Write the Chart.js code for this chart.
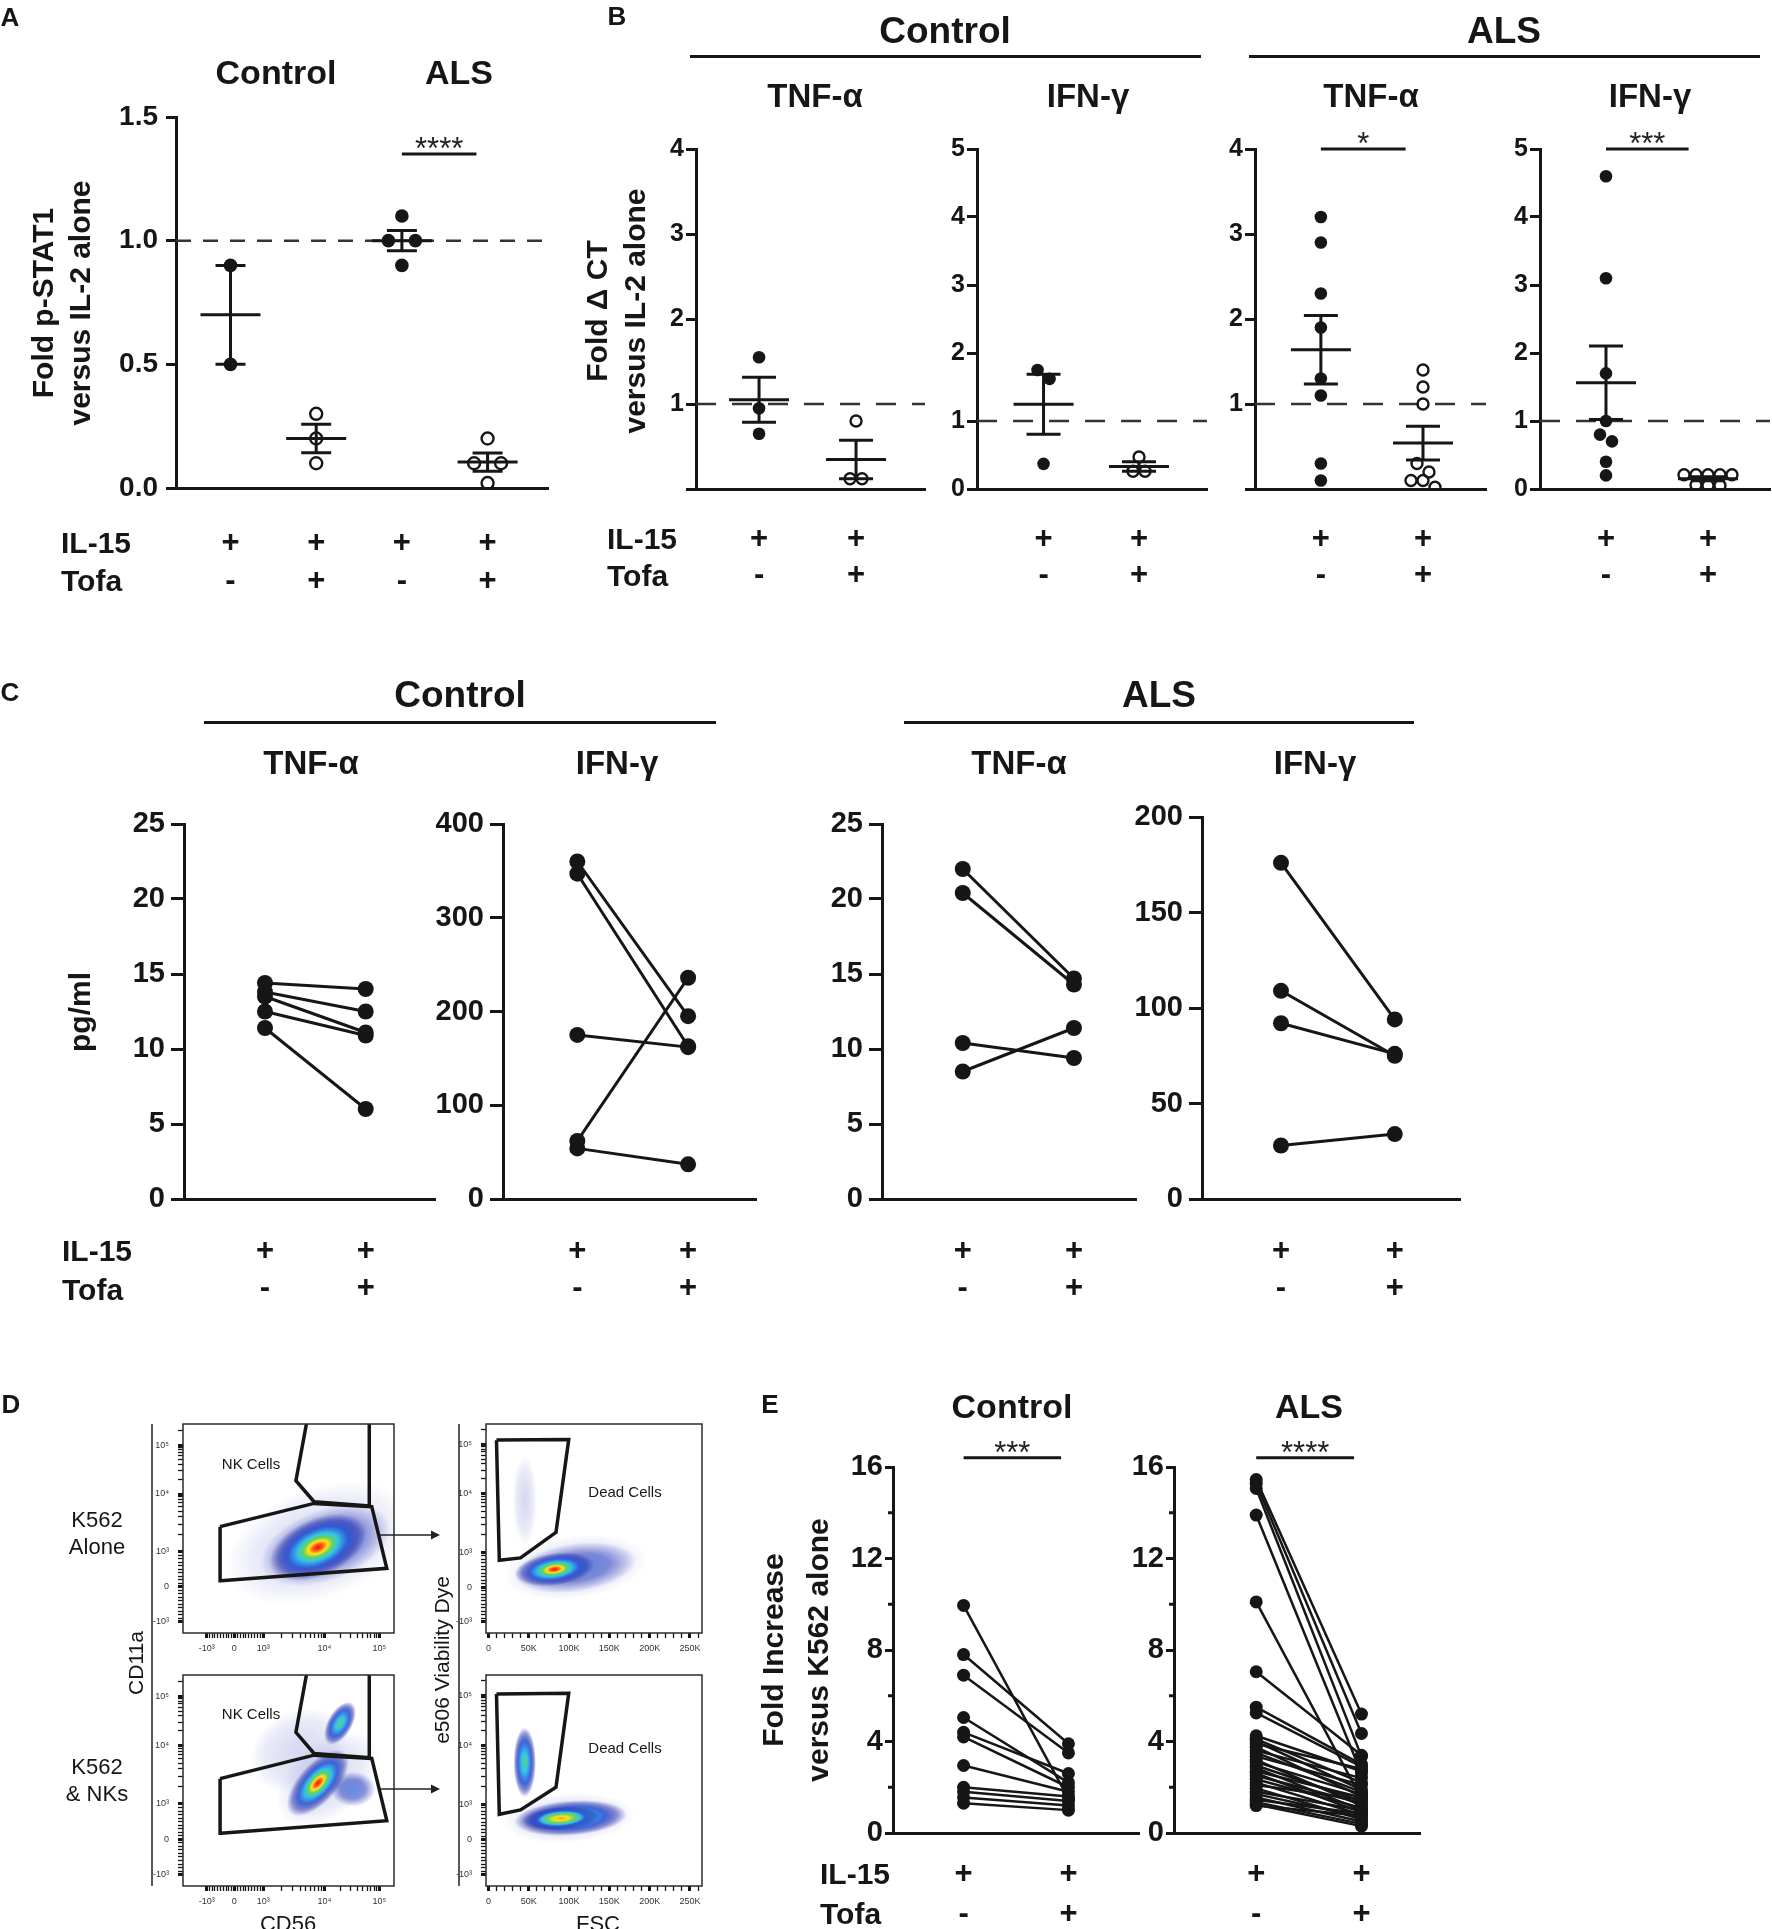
<!DOCTYPE html>
<html>
<head>
<meta charset="utf-8">
<title>NK cell IL-15 / tofacitinib figure</title>
<script src="https://cdn.jsdelivr.net/npm/chart.js@4.4.1/dist/chart.umd.min.js"></script>
<style>
  html, body { margin: 0; padding: 0; background: #fff; }
  #fig { position: relative; width: 1772px; height: 1929px; overflow: hidden; background: #fff;
         font-family: 'Liberation Sans', Arial, Helvetica, sans-serif; color: #161616; }
  #fig canvas { position: absolute; }
  .c { position: absolute; z-index: 2; transform: translate(-50%, -50%); white-space: nowrap; font-weight: bold; line-height: 1; text-align: center; }
  .l { position: absolute; z-index: 2; transform: translate(0, -50%); white-space: nowrap; font-weight: bold; line-height: 1; }
  .v { position: absolute; z-index: 2; transform: translate(-50%, -50%) rotate(-90deg); white-space: nowrap; font-weight: bold; text-align: center; }
  .n { font-weight: normal; }
  .rule { position: absolute; height: 3px; background: #161616; }
</style>
</head>
<body>
<div id="fig">
  <!-- panel letters -->
  <div class="c" style="left:10px;top:17px;font-size:26px">A</div>
  <div class="c" style="left:617px;top:16px;font-size:26px">B</div>
  <div class="c" style="left:10px;top:692px;font-size:26px">C</div>
  <div class="c" style="left:11px;top:1404px;font-size:26px">D</div>
  <div class="c" style="left:770px;top:1404px;font-size:26px">E</div>

  <!-- A -->
  <div class="c" style="left:276px;top:72px;font-size:34px">Control</div>
  <div class="c" style="left:459px;top:72px;font-size:34px">ALS</div>
  <div class="v" style="left:61px;top:303px;font-size:30px;line-height:37px">Fold p-STAT1<br>versus IL-2 alone</div>
  <div class="l" style="left:61px;top:543px;font-size:30px">IL-15</div>
  <div class="l" style="left:61px;top:581px;font-size:30px">Tofa</div>

  <!-- B -->
  <div class="c" style="left:945px;top:30px;font-size:37px">Control</div>
  <div class="rule" style="left:690px;top:55px;width:511px"></div>
  <div class="c" style="left:1504px;top:30px;font-size:37px">ALS</div>
  <div class="rule" style="left:1249px;top:55px;width:511px"></div>
  <div class="c" style="left:815px;top:95px;font-size:33px">TNF-α</div>
  <div class="c" style="left:1088px;top:95px;font-size:33px">IFN-γ</div>
  <div class="c" style="left:1371px;top:95px;font-size:33px">TNF-α</div>
  <div class="c" style="left:1650px;top:95px;font-size:33px">IFN-γ</div>
  <div class="v" style="left:616px;top:311px;font-size:30px;line-height:38px">Fold Δ CT<br>versus IL-2 alone</div>
  <div class="l" style="left:607px;top:539px;font-size:30px">IL-15</div>
  <div class="l" style="left:607px;top:576px;font-size:30px">Tofa</div>

  <!-- C -->
  <div class="c" style="left:460px;top:694px;font-size:37px">Control</div>
  <div class="rule" style="left:204px;top:721px;width:512px"></div>
  <div class="c" style="left:1159px;top:694px;font-size:37px">ALS</div>
  <div class="rule" style="left:904px;top:721px;width:510px"></div>
  <div class="c" style="left:311px;top:762px;font-size:33px">TNF-α</div>
  <div class="c" style="left:617px;top:762px;font-size:33px">IFN-γ</div>
  <div class="c" style="left:1019px;top:762px;font-size:33px">TNF-α</div>
  <div class="c" style="left:1315px;top:762px;font-size:33px">IFN-γ</div>
  <div class="v" style="left:80px;top:1012px;font-size:30px;line-height:1">pg/ml</div>
  <div class="l" style="left:62px;top:1251px;font-size:30px">IL-15</div>
  <div class="l" style="left:62px;top:1290px;font-size:30px">Tofa</div>

  <!-- D -->
  <div class="c n" style="left:97px;top:1533px;font-size:22px;line-height:27px">K562<br>Alone</div>
  <div class="c n" style="left:97px;top:1780px;font-size:22px;line-height:27px">K562<br>&amp; NKs</div>
  <div class="v n" style="left:135px;top:1663px;font-size:21px;line-height:1">CD11a</div>
  <div class="v n" style="left:441px;top:1660px;font-size:21px;line-height:1">e506 Viability Dye</div>
  <div class="c n" style="left:288px;top:1924px;font-size:22px">CD56</div>
  <div class="c n" style="left:598px;top:1924px;font-size:22px">FSC</div>
  <div class="c n" style="left:251px;top:1463px;font-size:15px">NK Cells</div>
  <div class="c n" style="left:251px;top:1713px;font-size:15px">NK Cells</div>
  <div class="c n" style="left:625px;top:1491px;font-size:15px">Dead Cells</div>
  <div class="c n" style="left:625px;top:1747px;font-size:15px">Dead Cells</div>
  <svg style="position:absolute;left:0;top:0;z-index:1" width="1772" height="1929">
    <g stroke="#222" stroke-width="1.5">
      <line x1="152" y1="1424" x2="152" y2="1886"/>
      <line x1="459" y1="1424" x2="459" y2="1886"/>
      <line x1="380" y1="1535" x2="432" y2="1535"/>
      <line x1="380" y1="1789" x2="432" y2="1789"/>
    </g>
    <g fill="#222">
      <polygon points="431,1530.5 440,1535 431,1539.5"/>
      <polygon points="431,1784.5 440,1789 431,1793.5"/>
    </g>
  </svg>

  <!-- E -->
  <div class="c" style="left:1012px;top:1406px;font-size:34px">Control</div>
  <div class="c" style="left:1309px;top:1406px;font-size:34px">ALS</div>
  <div class="v" style="left:795px;top:1650px;font-size:30px;line-height:45px">Fold Increase<br>versus K562 alone</div>
  <div class="l" style="left:820px;top:1874px;font-size:30px">IL-15</div>
  <div class="l" style="left:820px;top:1914px;font-size:30px">Tofa</div>
</div>

<script>
const INK = '#161616';
const FONT = "'Liberation Sans', Arial, Helvetica, sans-serif";
Chart.defaults.font.family = FONT;
Chart.defaults.color = INK;

// ---- A: fold p-STAT1 versus IL-2 alone ----
const aIL15 = ['+', '+', '+', '+'];
const aTofa = ['-', '+', '-', '+'];
const aCtrlIL15 = [0.9, 0.5];
const aCtrlTofa = [0.3, 0.2, 0.1];
const aAlsIL15 = [1.1, 1.0, 1.0, 0.9];
const aAlsTofa = [0.2, 0.1, 0.1, 0.02];
const aTicks = [0, 0.5, 1.0, 1.5];

// ---- B: fold delta CT versus IL-2 alone ----
const bIL15 = ['+', '+'];
const bTofa = ['-', '+'];
const bTnfCtrlIL15 = [1.55, 0.95, 0.65];
const bTnfCtrlTofa = [0.8, 0.12, 0.12];
const bIfnCtrlIL15 = [1.75, 1.62, 0.37];
const bIfnCtrlTofa = [0.47, 0.26, 0.26];
const bTnfAlsIL15 = [3.2, 2.9, 2.3, 1.9, 1.3, 1.1, 0.3, 0.1];
const bTnfAlsTofa = [1.4, 1.2, 1.0, 0.3, 0.2, 0.1, 0.1, 0.02];
const bIfnAlsIL15 = [4.6, 3.1, 1.7, 1.0, 0.8, 0.7, 0.4, 0.2];
const bIfnAlsTofa = [0.21, 0.21, 0.21, 0.21, 0.21, 0.06, 0.05, 0.05];
const bTnfTicks = [0, 1, 2, 3, 4];
const bIfnTicks = [0, 1, 2, 3, 4, 5];

// ---- C: secreted cytokine, pg/ml (pairs: IL-15 alone -> IL-15 + Tofa) ----
const cTnfCtrlIL15 = [14.4, 13.8, 13.5, 12.5, 11.4];
const cTnfCtrlTofa = [14.0, 12.5, 11.1, 10.9, 6.0];
const cIfnCtrlIL15 = [360, 347, 175, 62, 54];
const cIfnCtrlTofa = [195, 163, 162, 236, 37];
const cTnfAlsIL15 = [22.0, 20.4, 10.4, 8.5];
const cTnfAlsTofa = [14.7, 14.3, 9.4, 11.4];
const cIfnAlsIL15 = [176, 109, 92, 28];
const cIfnAlsTofa = [94, 75, 76, 34];
const cTnfTicks = [0, 5, 10, 15, 20, 25];
const cIfnCtrlTicks = [0, 100, 200, 300, 400];
const cIfnAlsTicks = [0, 50, 100, 150, 200];

// ---- E: fold increase in K562 killing versus K562 alone ----
const eCtrlIL15 = [9.95, 7.8, 6.9, 5.05, 4.4, 4.2, 2.95, 2.0, 1.8, 1.55, 1.3];
const eCtrlTofa = [1.5, 3.9, 3.5, 2.2, 2.6, 2.0, 1.8, 1.6, 1.4, 1.2, 1.0];
const eAlsIL15 = [15.45, 15.28, 15.06, 13.9, 10.1, 7.05, 5.5, 5.25, 4.25, 4.1, 4.0, 3.9, 3.75, 3.6, 3.5, 3.35, 3.2,
                  3.1, 2.95, 2.85, 2.7, 2.6, 2.5, 2.35, 2.2, 2.1, 1.95, 1.8, 1.7, 1.55, 1.45, 1.35, 1.25, 1.2];
const eAlsTofa = [5.2, 4.35, 3.35, 2.6, 1.5, 3.4, 3.0, 2.9, 2.7, 2.2, 1.9, 2.8, 1.6, 2.4, 1.8, 2.1, 1.2,
                  1.7, 1.4, 1.0, 1.55, 0.9, 1.3, 1.1, 0.8, 1.45, 0.6, 1.0, 0.7, 0.5, 0.85, 0.4, 0.3, 0.75];
const eTicks = [0, 4, 8, 12, 16];
const eMinor = [2, 6, 10, 14];

// ---- D: flow plots. Log axes in channel units (0-1024), FSC in raw units ----
const decadeLabels = ['-10³', '0', '10³', '10⁴', '10⁵'];
const cd56Channels = [115, 249, 390, 686, 953];
const cd11aChannels = [55, 227, 398, 681, 921];
const e506Channels = [55, 225, 396, 682, 925];
const fscTicks = [0, 50000, 100000, 150000, 200000, 250000];
const fscLabels = ['0', '50K', '100K', '150K', '200K', '250K'];
const nkGate = [[600, 1030], [548, 746], [636, 643], [907, 622], [904, 1030]];
const k562Gate = [[180, 521], [636, 635], [916, 619], [989, 317], [184, 256], [180, 521]];
const deadGateAlone = [[10000, 945], [99600, 948], [83800, 493], [39800, 368], [13500, 356], [10000, 945]];
const deadGateMix = [[10000, 932], [99600, 935], [83800, 479], [39800, 369], [13500, 348], [10000, 932]];
// density clouds: centre, radii (axis units), tilt in degrees, heat 0 (sparse), 1 (blue/green) .. 3 (red core)
const cloudsAlone = [
  { x: 660, y: 440, rx: 470, ry: 270, rot: 20, heat: 0 },
  { x: 690, y: 430, rx: 330, ry: 175, rot: 20, heat: 0.5 },
  { x: 655, y: 420, rx: 250, ry: 140, rot: 24, heat: 3 }
];
const cloudsMix = [
  { x: 560, y: 660, rx: 250, ry: 190, rot: 30, heat: 0 },
  { x: 700, y: 520, rx: 290, ry: 180, rot: 40, heat: 0 },
  { x: 825, y: 470, rx: 110, ry: 85, rot: 0, heat: 0.5 },
  { x: 762, y: 790, rx: 115, ry: 60, rot: 60, heat: 1 },
  { x: 655, y: 500, rx: 200, ry: 95, rot: 48, heat: 3 }
];
const cloudsDeadAlone = [
  { x: 45000, y: 650, rx: 15000, ry: 220, rot: 0, heat: 0 },
  { x: 108000, y: 322, rx: 90000, ry: 155, rot: 8, heat: 0 },
  { x: 108000, y: 320, rx: 76000, ry: 118, rot: 8, heat: 0.5 },
  { x: 82000, y: 312, rx: 50000, ry: 80, rot: 8, heat: 3 }
];
const cloudsDeadMix = [
  { x: 45000, y: 600, rx: 14000, ry: 170, rot: 0, heat: 1 },
  { x: 100000, y: 330, rx: 82000, ry: 120, rot: 4, heat: 0 },
  { x: 102000, y: 330, rx: 70000, ry: 85, rot: 4, heat: 1 },
  { x: 90000, y: 328, rx: 48000, ry: 58, rot: 4, heat: 2 }
];

const fig = document.getElementById('fig');

function makeCanvas(area, m) {
  const a = area.map(Math.round);
  const c = document.createElement('canvas');
  const w = a[2] - a[0] + m.l + m.r, h = a[3] - a[1] + m.t + m.b;
  c.width = w; c.height = h;
  c.style.left = (a[0] - m.l) + 'px';
  c.style.top = (a[1] - m.t) + 'px';
  c.style.width = w + 'px';
  c.style.height = h + 'px';
  fig.appendChild(c);
  return c;
}

// spread near-equal values side by side, like a scatter dot plot
function swarm(values, xc, pxX, pxY, spacing, near) {
  const order = values.map((v, i) => i).sort((a, b) => values[b] - values[a]);
  const out = [];
  let row = [];
  const flush = () => {
    row.forEach((idx, k) => out.push({ x: xc + (k - (row.length - 1) / 2) * spacing / pxX, y: values[idx] }));
    row = [];
  };
  order.forEach(idx => {
    if (row.length && (values[row[0]] - values[idx]) * pxY > near) flush();
    row.push(idx);
  });
  flush();
  return out;
}

function meanSemPlugin(groups, half, cap) {
  return {
    id: 'meanSem',
    afterDatasetsDraw(chart) {
      const { ctx, scales: { x, y } } = chart;
      ctx.save();
      ctx.strokeStyle = INK;
      ctx.lineWidth = 3;
      groups.forEach((vals, i) => {
        const n = vals.length;
        const mean = vals.reduce((s, v) => s + v, 0) / n;
        const sem = Math.sqrt(vals.reduce((s, v) => s + (v - mean) ** 2, 0) / (n - 1) / n);
        const cx = x.getPixelForValue(i + 1);
        const ym = y.getPixelForValue(mean), yt = y.getPixelForValue(mean + sem), yb = y.getPixelForValue(mean - sem);
        ctx.beginPath();
        ctx.moveTo(cx - half, ym); ctx.lineTo(cx + half, ym);
        ctx.moveTo(cx, yt); ctx.lineTo(cx, yb);
        ctx.moveTo(cx - cap, yt); ctx.lineTo(cx + cap, yt);
        ctx.moveTo(cx - cap, yb); ctx.lineTo(cx + cap, yb);
        ctx.stroke();
      });
      ctx.restore();
    }
  };
}

function sigPlugin(s) {
  return {
    id: 'sigBar',
    afterDraw(chart) {
      const { ctx, scales: { x, y } } = chart;
      const x1 = x.getPixelForValue(s.from), x2 = x.getPixelForValue(s.to), yy = y.getPixelForValue(s.y);
      ctx.save();
      ctx.strokeStyle = INK;
      ctx.lineWidth = 3;
      ctx.beginPath(); ctx.moveTo(x1, yy); ctx.lineTo(x2, yy); ctx.stroke();
      ctx.fillStyle = '#222';
      ctx.font = '31px ' + FONT;
      ctx.textAlign = 'center';
      ctx.textBaseline = 'alphabetic';
      ctx.fillText(s.text, (x1 + x2) / 2, yy + 5);
      ctx.restore();
    }
  };
}

function minorTickPlugin(vals, len) {
  return {
    id: 'minorTicks',
    afterDraw(chart) {
      const { ctx, chartArea, scales: { y } } = chart;
      ctx.save();
      ctx.strokeStyle = INK;
      ctx.lineWidth = 3;
      vals.forEach(v => {
        const py = y.getPixelForValue(v);
        ctx.beginPath(); ctx.moveTo(chartArea.left - len, py); ctx.lineTo(chartArea.left, py); ctx.stroke();
      });
      ctx.restore();
    }
  };
}

function heatStops(h) {
  const tail = [[0.62, 'rgba(44,86,214,0.9)'], [0.82, 'rgba(38,48,170,0.5)'], [1, 'rgba(38,48,170,0)']];
  if (h === 0) return [[0, 'rgba(45,60,185,0.2)'], [0.7, 'rgba(45,60,185,0.1)'], [1, 'rgba(45,60,185,0)']];
  if (h === 0.5) return [[0, 'rgba(50,110,225,0.75)'], [0.55, 'rgba(40,60,190,0.55)'], [1, 'rgba(40,50,175,0)']];
  if (h === 1) return [[0, '#5fd07a'], [0.28, '#36c3e6'], [0.45, '#3a8ae6']].concat(tail);
  if (h === 2) return [[0, '#ffa21a'], [0.18, '#f3e227'], [0.36, '#6ad257'], [0.5, '#34c3e6']].concat(tail);
  return [[0, '#e3141b'], [0.1, '#ff5a14'], [0.2, '#ffe31c'], [0.3, '#63d35b'], [0.42, '#33c4e8']].concat(tail);
}

function flowPlugin(clouds) {
  return {
    id: 'flow',
    beforeDatasetsDraw(chart) {
      const { ctx, chartArea: a, scales: { x, y } } = chart;
      ctx.save();
      ctx.beginPath(); ctx.rect(a.left, a.top, a.width, a.height); ctx.clip();
      clouds.forEach(c => {
        const cx = x.getPixelForValue(c.x), cy = y.getPixelForValue(c.y);
        const rx = Math.abs(x.getPixelForValue(c.x + c.rx) - cx);
        const ry = Math.abs(y.getPixelForValue(c.y + c.ry) - cy);
        ctx.save();
        ctx.translate(cx, cy);
        ctx.rotate(-c.rot * Math.PI / 180);
        ctx.scale(rx, ry);
        const g = ctx.createRadialGradient(0, 0, 0, 0, 0, 1);
        heatStops(c.heat).forEach(([s, col]) => g.addColorStop(s, col));
        ctx.fillStyle = g;
        ctx.beginPath(); ctx.arc(0, 0, 1, 0, 2 * Math.PI); ctx.fill();
        ctx.restore();
      });
      ctx.restore();
    },
    afterDraw(chart) {
      const { ctx, chartArea: a } = chart;
      ctx.save();
      ctx.strokeStyle = '#2b2b2b';
      ctx.lineWidth = 1.5;
      ctx.strokeRect(a.left, a.top, a.width, a.height);
      ctx.restore();
    }
  };
}

function axisY(p) {
  return {
    type: 'linear', min: p.yr[0], max: p.yr[1],
    afterBuildTicks: s => { s.ticks = p.ticks.map(v => ({ value: v })); },
    afterFit: s => { s.width = p.m.l; },
    border: { display: true, width: 3, color: INK },
    grid: { drawOnChartArea: false, drawTicks: true, tickLength: p.tick, tickWidth: 3, tickColor: INK },
    ticks: { autoSkip: false, padding: p.pad, color: INK, font: { size: p.font, weight: 'bold' }, callback: p.fmt }
  };
}

function axisX(p) {
  return {
    type: 'linear', min: p.xr[0], max: p.xr[1],
    afterBuildTicks: s => { s.ticks = p.il15.map((_, i) => ({ value: i + 1 })); },
    afterFit: s => { s.height = p.m.b; },
    border: { display: true, width: 3, color: INK },
    grid: { display: false, drawTicks: false },
    ticks: {
      autoSkip: false, maxRotation: 0, color: INK,
      padding: p.rowY - Math.round(p.area[3]) - p.rowGap / 2,
      font: { size: 31, weight: 'bold', lineHeight: p.rowGap + 'px' },
      callback: v => [p.il15[v - 1], p.tofa[v - 1]]
    }
  };
}

function panel(p, datasets, plugins) {
  return new Chart(makeCanvas(p.area, p.m), {
    type: 'scatter',
    data: { datasets },
    options: {
      responsive: false, animation: false, devicePixelRatio: 1,
      layout: { padding: { left: 0, top: p.m.t, right: p.m.r, bottom: 0 }, autoPadding: false },
      plugins: { legend: { display: false }, tooltip: { enabled: false } },
      scales: { x: axisX(p), y: axisY(p) }
    },
    plugins
  });
}

// scatter dot plot with mean +/- SEM
function dotPanel(p) {
  const aw = Math.round(p.area[2]) - Math.round(p.area[0]);
  const ah = Math.round(p.area[3]) - Math.round(p.area[1]);
  const pxX = aw / (p.xr[1] - p.xr[0]), pxY = ah / (p.yr[1] - p.yr[0]);
  const datasets = p.groups.map((g, i) => ({
    data: swarm(g.values, i + 1, pxX, pxY, p.spacing, p.dot * 1.5),
    pointRadius: g.open ? p.dot - 0.8 : p.dot,
    pointBorderWidth: g.open ? 2.4 : 0,
    pointBorderColor: INK,
    pointBackgroundColor: g.open ? 'rgba(255,255,255,0)' : INK
  }));
  datasets.push({
    data: [{ x: p.xr[0], y: 1 }, { x: p.xr[1], y: 1 }], showLine: true,
    borderColor: '#333', borderWidth: 2.5, borderDash: p.dash, pointRadius: 0
  });
  const plugins = [meanSemPlugin(p.groups.map(g => g.values), p.meanHalf, p.capHalf)];
  if (p.sig) plugins.push(sigPlugin(p.sig));
  panel(p, datasets, plugins);
}

// before/after pairs joined by lines
function pairPanel(p) {
  const datasets = p.before.map((v, i) => ({
    data: [{ x: 1, y: v }, { x: 2, y: p.after[i] }], showLine: true,
    borderColor: INK, borderWidth: p.lw,
    pointRadius: p.dot, pointBackgroundColor: INK, pointBorderWidth: 0
  }));
  const plugins = [];
  if (p.sig) plugins.push(sigPlugin(p.sig));
  if (p.minor) plugins.push(minorTickPlugin(p.minor, 5));
  panel(p, datasets, plugins);
}

// ---- A ----
dotPanel({
  area: [176, 117, 548, 488], xr: [0.364, 4.705], yr: [0, 1.5], ticks: aTicks, fmt: v => v.toFixed(1),
  groups: [{ values: aCtrlIL15 }, { values: aCtrlTofa, open: true }, { values: aAlsIL15 }, { values: aAlsTofa, open: true }],
  il15: aIL15, tofa: aTofa, dash: [15, 12], sig: { from: 3, to: 3.87, y: 1.35, text: '****' },
  m: { l: 85, r: 20, t: 40, b: 110 }, tick: 10, pad: 8, font: 28, rowY: 543, rowGap: 38,
  dot: 6.8, spacing: 27, meanHalf: 30, capHalf: 15
});

// ---- B ----
const bBase = {
  yr: [0, 4], ticks: bTnfTicks, il15: bIL15, tofa: bTofa, dash: [20, 16],
  m: { l: 50, r: 20, t: 40, b: 100 }, tick: 10, pad: 2, font: 25, rowY: 539, rowGap: 36,
  dot: 6.3, spacing: 12, meanHalf: 30, capHalf: 17
};
const tnfFmt = v => (v === 0 ? '' : String(v));
dotPanel(Object.assign({}, bBase, {
  area: [696, 148.5, 925, 489], xr: [0.35, 2.711], fmt: tnfFmt,
  groups: [{ values: bTnfCtrlIL15 }, { values: bTnfCtrlTofa, open: true }]
}));
dotPanel(Object.assign({}, bBase, {
  area: [977, 148.5, 1207, 489], xr: [0.303, 2.712], yr: [0, 5], ticks: bIfnTicks, fmt: v => String(v),
  groups: [{ values: bIfnCtrlIL15 }, { values: bIfnCtrlTofa, open: true }]
}));
dotPanel(Object.assign({}, bBase, {
  area: [1255, 148.5, 1486.4, 489], xr: [0.355, 2.617], fmt: tnfFmt,
  groups: [{ values: bTnfAlsIL15 }, { values: bTnfAlsTofa, open: true }],
  sig: { from: 1, to: 1.83, y: 4, text: '*' }
}));
dotPanel(Object.assign({}, bBase, {
  area: [1540, 148.5, 1770, 489], xr: [0.353, 2.608], yr: [0, 5], ticks: bIfnTicks, fmt: v => String(v),
  groups: [{ values: bIfnAlsIL15 }, { values: bIfnAlsTofa, open: true }],
  sig: { from: 1, to: 1.81, y: 5, text: '***' }
}));

// ---- C ----
const cBase = {
  il15: bIL15, tofa: bTofa, m: { l: 85, r: 20, t: 40, b: 110 }, tick: 13, pad: 6, font: 29,
  rowY: 1251, rowGap: 37, dot: 8, lw: 3, fmt: v => String(v)
};
pairPanel(Object.assign({}, cBase, {
  area: [184, 824, 435, 1198.7], xr: [0.196, 2.688], yr: [0, 25], ticks: cTnfTicks,
  before: cTnfCtrlIL15, after: cTnfCtrlTofa
}));
pairPanel(Object.assign({}, cBase, {
  area: [502.5, 824, 756, 1198.7], xr: [0.329, 2.613], yr: [0, 400], ticks: cIfnCtrlTicks,
  before: cIfnCtrlIL15, after: cIfnCtrlTofa
}));
pairPanel(Object.assign({}, cBase, {
  area: [882, 824, 1135.8, 1198.7], xr: [0.274, 2.558], yr: [0, 25], ticks: cTnfTicks,
  before: cTnfAlsIL15, after: cTnfAlsTofa
}));
pairPanel(Object.assign({}, cBase, {
  area: [1202.4, 816.6, 1460.4, 1198.7], xr: [0.306, 2.573], yr: [0, 200], ticks: cIfnAlsTicks,
  before: cIfnAlsIL15, after: cIfnAlsTofa
}));

// ---- E ----
const eBase = {
  il15: bIL15, tofa: bTofa, m: { l: 60, r: 20, t: 50, b: 100 }, tick: 8, pad: 2, font: 29,
  rowY: 1874, rowGap: 40, dot: 6.5, lw: 2.5, yr: [0, 16], ticks: eTicks, minor: eMinor, fmt: v => String(v)
};
pairPanel(Object.assign({}, eBase, {
  area: [892.6, 1466.8, 1139, 1832.7], xr: [0.327, 2.673],
  before: eCtrlIL15, after: eCtrlTofa, sig: { from: 1, to: 1.93, y: 16.4, text: '***' }
}));
pairPanel(Object.assign({}, eBase, {
  area: [1173.7, 1466.8, 1420, 1832.7], xr: [0.219, 2.556],
  before: eAlsIL15, after: eAlsTofa, sig: { from: 1, to: 1.93, y: 16.4, text: '****' }
}));

// ---- D ----
function toChannel(v, ch) {
  if (v < 0) return ch[1] + (v / 1000) * (ch[1] - ch[0]);
  if (v <= 1000) return ch[1] + (v / 1000) * (ch[2] - ch[1]);
  const d = Math.log10(v);
  return d <= 4 ? ch[2] + (d - 3) * (ch[3] - ch[2]) : ch[3] + (d - 4) * (ch[4] - ch[3]);
}
const biexMinorVals = [];
for (let v = -900; v <= 900; v += 100) if (v !== 0) biexMinorVals.push(v);
[2, 3, 4, 5, 6, 7, 8, 9].forEach(k => biexMinorVals.push(k * 1000, k * 10000));
biexMinorVals.push(200000);
const fscMinor = [];
for (let v = 10000; v <= 260000; v += 10000) if (v % 50000) fscMinor.push(v);

function biexAxis(isX, ch, box) {
  return flowAxis(isX, [0, 1024], ch, decadeLabels,
    biexMinorVals.map(v => toChannel(v, ch)).filter(c => c > 0 && c < 1024), box);
}

function flowAxis(isX, range, majors, labels, minors, box) {
  return {
    type: 'linear', min: range[0], max: range[1],
    afterBuildTicks: s => {
      s.ticks = majors.map(v => ({ value: v, major: true }))
        .concat(minors.map(v => ({ value: v, major: false })))
        .sort((a, b) => a.value - b.value);
    },
    afterFit: s => { if (isX) s.height = box; else s.width = box; },
    border: { display: false },
    grid: {
      drawOnChartArea: false, drawTicks: true, tickLength: 5, tickColor: INK,
      tickWidth: c => (c.tick && c.tick.major ? 3 : 1.3)
    },
    ticks: {
      autoSkip: false, maxRotation: 0, padding: isX ? 5 : 9, color: '#333', font: { size: 9 },
      callback: (v, i, ts) => (ts[i].major ? labels[majors.indexOf(v)] : '')
    }
  };
}

function flowPanel(area, xAxis, yAxis, gates, clouds) {
  const m = { l: 45, r: 20, t: 20, b: 30 };
  const datasets = gates.map(g => ({
    data: g.map(([x, y]) => ({ x, y })), showLine: true,
    borderColor: INK, borderWidth: 3.5, pointRadius: 0
  }));
  new Chart(makeCanvas(area, m), {
    type: 'scatter',
    data: { datasets },
    options: {
      responsive: false, animation: false, devicePixelRatio: 1,
      layout: { padding: { left: 0, top: m.t, right: m.r, bottom: 0 }, autoPadding: false },
      plugins: { legend: { display: false }, tooltip: { enabled: false } },
      scales: { x: xAxis, y: yAxis }
    },
    plugins: [flowPlugin(clouds)]
  });
}

flowPanel([183, 1424, 394, 1633], biexAxis(true, cd56Channels, 30), biexAxis(false, cd11aChannels, 45),
  [nkGate, k562Gate], cloudsAlone);
flowPanel([183, 1675, 394, 1886], biexAxis(true, cd56Channels, 30), biexAxis(false, cd11aChannels, 45),
  [nkGate, k562Gate], cloudsMix);
flowPanel([486, 1424, 702, 1633], flowAxis(true, [-3000, 264900], fscTicks, fscLabels, fscMinor, 30),
  biexAxis(false, e506Channels, 45), [deadGateAlone], cloudsDeadAlone);
flowPanel([486, 1675, 702, 1886], flowAxis(true, [-3000, 264900], fscTicks, fscLabels, fscMinor, 30),
  biexAxis(false, e506Channels, 45), [deadGateMix], cloudsDeadMix);
</script>
</body>
</html>
